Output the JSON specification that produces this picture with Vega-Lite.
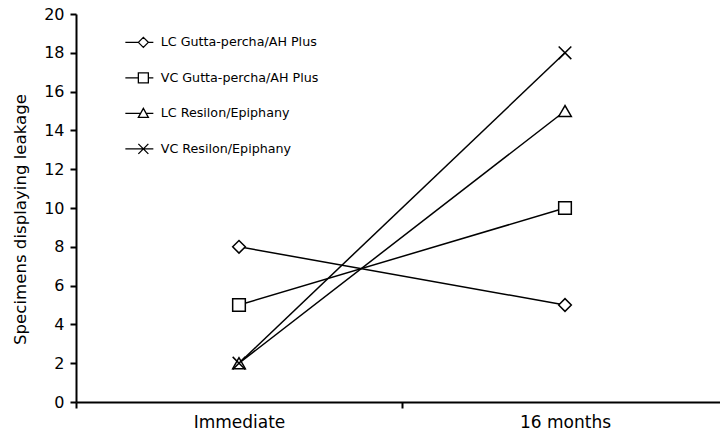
{
  "$schema": "https://vega.github.io/schema/vega-lite/v6.json",
  "autosize": "none",
  "width": 652,
  "height": 388,
  "padding": {"left": 76, "top": 14, "right": -8, "bottom": 34},
  "background": "white",
  "config": {
    "view": {"stroke": null},
    "font": "DejaVu Sans",
    "axis": {"domainColor": "black", "domainWidth": 2, "tickColor": "black", "tickWidth": 2, "tickSize": 6, "labelColor": "black", "titleColor": "black", "grid": false, "labelFont": "DejaVu Sans", "titleFont": "DejaVu Sans", "titleFontWeight": "normal"}
  },
  "data": {
    "values": [
      {"series": "LC Gutta-percha/AH Plus", "time": "Immediate", "count": 8},
      {"series": "LC Gutta-percha/AH Plus", "time": "16 months", "count": 5},
      {"series": "VC Gutta-percha/AH Plus", "time": "Immediate", "count": 5},
      {"series": "VC Gutta-percha/AH Plus", "time": "16 months", "count": 10},
      {"series": "LC Resilon/Epiphany", "time": "Immediate", "count": 2},
      {"series": "LC Resilon/Epiphany", "time": "16 months", "count": 15},
      {"series": "VC Resilon/Epiphany", "time": "Immediate", "count": 2},
      {"series": "VC Resilon/Epiphany", "time": "16 months", "count": 18}
    ]
  },
  "encoding": {
    "x": {
      "field": "time", "type": "nominal", "sort": ["Immediate", "16 months"],
      "scale": {"type": "band", "paddingInner": 0, "paddingOuter": 0},
      "axis": {"title": null, "labelAngle": 0, "labelFontSize": 17, "labelPadding": 6, "tickBand": "extent"}
    },
    "y": {
      "field": "count", "type": "quantitative",
      "scale": {"domain": [0, 20], "nice": false},
      "axis": {"title": "Specimens displaying leakage", "values": [0, 2, 4, 6, 8, 10, 12, 14, 16, 18, 20], "labelFontSize": 16, "labelPadding": 6, "titleFontSize": 16.6, "titlePadding": 15, "titleY": 205}
    }
  },
  "layer": [
    {
      "mark": {"type": "line", "color": "black", "strokeWidth": 1.5},
      "encoding": {"detail": {"field": "series"}}
    },
    {
      "mark": {"type": "point", "filled": true, "fill": "white", "stroke": "black", "strokeWidth": 1.5, "size": 160, "opacity": 1},
      "encoding": {
        "shape": {
          "field": "series", "type": "nominal", "legend": null,
          "scale": {
            "domain": ["LC Gutta-percha/AH Plus", "VC Gutta-percha/AH Plus", "LC Resilon/Epiphany", "VC Resilon/Epiphany"],
            "range": ["diamond", "square", "triangle-up", "M-1,-1L1,1M-1,1L1,-1"]
          }
        }
      }
    },
    {
      "transform": [{"filter": "false"}],
      "mark": {"type": "point", "filled": false, "color": "black", "strokeWidth": 1.3, "size": 100, "opacity": 1},
      "encoding": {
        "shape": {
          "field": "series", "type": "nominal",
          "scale": {
            "domain": ["LC Gutta-percha/AH Plus", "VC Gutta-percha/AH Plus", "LC Resilon/Epiphany", "VC Resilon/Epiphany"],
            "range": [
              "M-3.6,0H-1M-1,0L0,-1L1,0L0,1ZM1,0H2",
              "M-3.6,0H-1M-1,-1H1V1H-1ZM1,0H2",
              "M-3.6,0H-0.55M0,-1L1,0.8H-1ZM0.55,0H2",
              "M-3.6,0H2M-1,-1L1,1M-1,1L1,-1"
            ]
          },
          "legend": {
            "title": null, "orient": "none", "legendX": 61, "legendY": 22, "padding": 0,
            "symbolSize": 100, "symbolStrokeColor": "black", "symbolStrokeWidth": 1.3, "symbolOpacity": 1,
            "labelFontSize": 12.7, "labelColor": "black", "labelOffset": 11, "rowPadding": 19.5, "labelFont": "DejaVu Sans", "labelLimit": 400
          }
        }
      }
    }
  ],
  "resolve": {"scale": {"shape": "independent"}}
}
